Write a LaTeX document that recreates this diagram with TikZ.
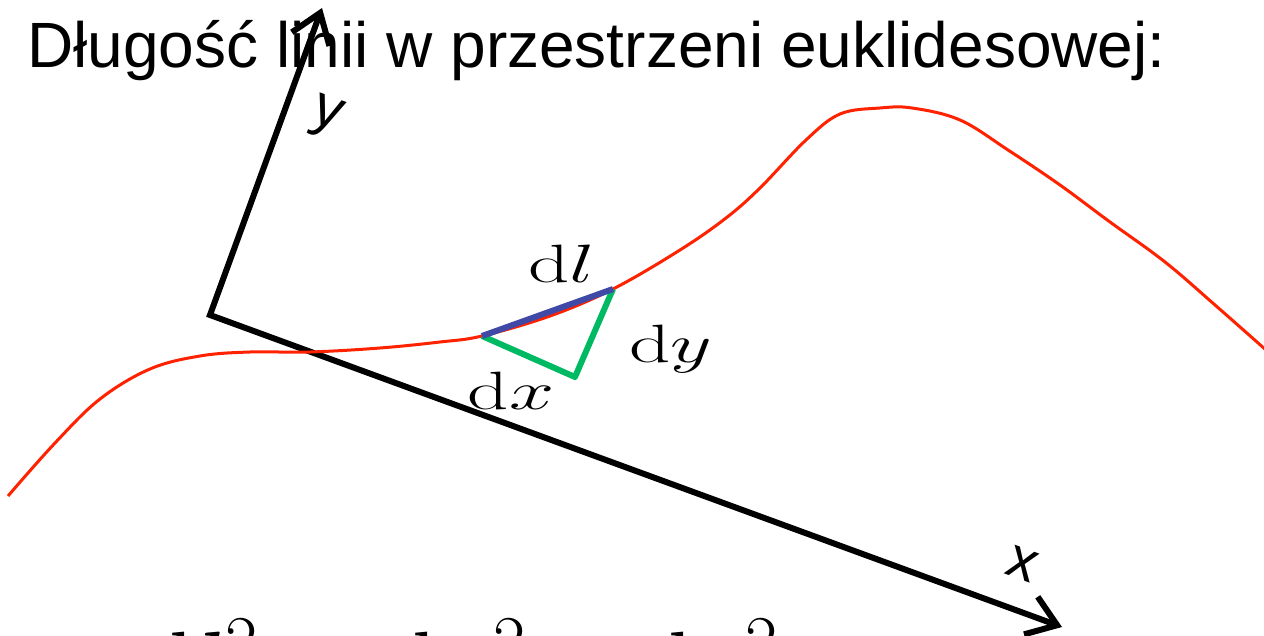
\RequirePackage{fix-cm}
\documentclass[tikz,border=0pt]{standalone}
\usepackage{fontspec}
\newfontfamily\arialfont{Liberation Sans}
\usepackage{amsmath}
\usetikzlibrary{arrows.meta}
\definecolor{curvered}{HTML}{FF2200}
\definecolor{dlblue}{HTML}{4149A6}
\definecolor{legreen}{HTML}{00BA63}

\begin{document}
\begin{tikzpicture}[
  x=0.5pt, y=-0.5pt,
  axis/.style={line width=3pt, {Straight Barb[length=14pt, width=20pt]}-{Straight Barb[length=14pt, width=20pt]}},
  axlbl/.style={inner sep=0pt, rotate=-20, font=\fontsize{29}{34}\selectfont\arialfont},
  mlbl/.style={inner sep=0pt, xscale=1.5, font=\fontsize{27}{32}\selectfont},
  leg/.style={line width=3pt, legreen, line join=round}
]
  \useasboundingbox (0,0) rectangle (1264,636);
  \clip (0,0) rectangle (1264,636);

  % Title
  \node[anchor=base west, inner sep=0pt, font=\fontsize{32}{38}\selectfont\arialfont] (title) at (27,68) {Długość linii w przestrzeni euklidesowej:};

  % Axes
  \coordinate (o) at (210,315);
  \coordinate (ytip) at (322,8);
  \coordinate (xtip) at (1062,627);
  \draw[axis] (ytip) -- (o) -- (xtip);
  \node[axlbl] (ylbl) at (326,118) {y};
  \node[axlbl] (xlbl) at (1022,564) {x};

  % Curve
  \draw[curvered, line width=1.5pt] plot[smooth, tension=0.6] coordinates {
    (8,496) (55,443) (100,399) (150,369) (200,356) (250,352) (310,352)
    (380,348) (440,342) (482,336) (550,316) (613,289) (680,250) (726,218)
    (760,188) (806,140) (840,114) (880,108) (912,108) (960,120) (1008,150)
    (1060,185) (1110,222) (1165,262) (1215,305) (1266,350)};

  % Line element
  \coordinate (p) at (482,336);
  \coordinate (q) at (613,289);
  \coordinate (r) at (575,377);
  \draw[leg] (p) -- (r) -- (q);
  \draw[dlblue, line width=3pt] (p) -- (q);

  \node[mlbl] (dl) at (562,264) {$\mathrm{d}l$};
  \node[mlbl] (dy) at (671,349) {$\mathrm{d}y$};
  \node[mlbl] (dx) at (511,391) {$\mathrm{d}x$};

  % Formula (cut off)
  \node[anchor=base west, inner sep=0pt, font=\fontsize{50}{60}\selectfont] (eq) at (143,701) {$\mathrm{d}l^2=\mathrm{d}x^2+\mathrm{d}y^2$};
\end{tikzpicture}
\end{document}
